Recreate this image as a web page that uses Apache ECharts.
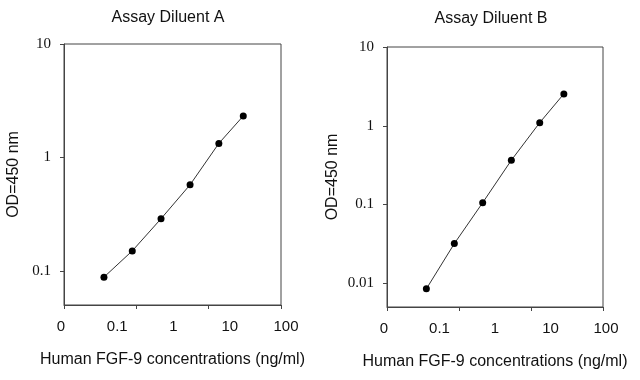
<!DOCTYPE html>
<html>
<head>
<meta charset="utf-8">
<script src="https://cdn.jsdelivr.net/npm/echarts@6/dist/echarts.min.js"></script>
<style>html,body{margin:0;padding:0;background:#fff;}#c{width:640px;height:380px;}</style>
</head>
<body>
<div id="c"></div>
<script>
// Data
const conc = [0.058, 0.185, 0.6, 1.97, 6.4, 17.4];           // ng/ml
const odA  = [0.088, 0.150, 0.288, 0.574, 1.33, 2.32];        // Assay Diluent A
const odB  = [0.0085, 0.0319, 0.1055, 0.365, 1.096, 2.54];    // Assay Diluent B
const titles = ['Assay Diluent A', 'Assay Diluent B'];
const xTickLabels = ['0', '0.1', '1', '10', '100'];            // at 0.01, 0.1, 1, 10, 100
const yTicksA = [0.1, 1, 10];
const yTicksB = [0.01, 0.1, 1, 10];
const xName = 'Human FGF-9 concentrations (ng/ml)';
const yName = 'OD=450 nm';

const sans = 'Liberation Sans, Arial, sans-serif';
const serif = 'Liberation Serif, Times New Roman, serif';
const lineCol = '#444';
const textCol = '#111';

function boxX(grid) {
  return {
    gridIndex: grid, type: 'value', min: 0, max: 3, interval: 1,
    axisLine: { show: true, lineStyle: { color: lineCol, width: 1 } },
    axisTick: { show: true, inside: false, length: 4, lineStyle: { color: lineCol } },
    axisLabel: { show: false }, splitLine: { show: false },
    name: xName, nameLocation: 'middle', nameGap: 47,
    nameTextStyle: { fontFamily: sans, fontSize: 16, color: textCol }
  };
}
function labelX(grid) {
  return {
    gridIndex: grid, type: 'log', logBase: 10, min: 0.01, max: 100,
    axisLine: { show: false }, axisTick: { show: false }, splitLine: { show: false },
    axisLabel: {
      margin: 14, fontFamily: sans, fontSize: 15, color: textCol,
      formatter: v => xTickLabels[Math.round(Math.log10(v)) + 2] || ''
    }
  };
}
function boxY(grid, min, ticks, gap) {
  return {
    gridIndex: grid, type: 'log', logBase: 10, min: min, max: 10,
    axisLine: { show: true, lineStyle: { color: lineCol, width: 1 } },
    axisTick: { show: true, inside: false, length: 4, lineStyle: { color: lineCol }, customValues: ticks },
    axisLabel: { margin: 13, fontFamily: serif, fontSize: 15, color: textCol, customValues: ticks,
      formatter: v => String(v) },
    splitLine: { show: false },
    name: yName, nameLocation: 'middle', nameGap: gap, nameRotate: 90,
    nameTextStyle: { fontFamily: sans, fontSize: 16, color: textCol }
  };
}
function hiddenY(grid, min) {
  return { gridIndex: grid, type: 'log', logBase: 10, min: min, max: 10, show: false };
}
function series(xi, yi, vals) {
  return {
    type: 'line', xAxisIndex: xi, yAxisIndex: yi,
    data: conc.map((c, i) => [c, vals[i]]),
    symbol: 'circle', symbolSize: 7, showSymbol: true,
    itemStyle: { color: '#000' },
    lineStyle: { color: '#333', width: 1 },
    silent: true, animation: false
  };
}

const chart = echarts.init(document.getElementById('c'), null, { renderer: 'canvas' });
chart.setOption({
  backgroundColor: '#fff',
  animation: false,
  title: [
    { text: titles[0], left: 163, top: 5, textAlign: 'center',
      textStyle: { fontFamily: sans, fontSize: 16, fontWeight: 'normal', color: textCol } },
    { text: titles[1], left: 486, top: 6, textAlign: 'center',
      textStyle: { fontFamily: sans, fontSize: 16, fontWeight: 'normal', color: textCol } }
  ],
  grid: [
    { left: 64, top: 44, width: 217, height: 261, show: true, borderColor: lineCol, borderWidth: 1, backgroundColor: 'transparent' },
    { left: 61, top: 44, width: 225, height: 261 },
    { left: 387, top: 47, width: 216, height: 260, show: true, borderColor: lineCol, borderWidth: 1, backgroundColor: 'transparent' },
    { left: 384, top: 47, width: 222, height: 260 }
  ],
  xAxis: [boxX(0), labelX(1), boxX(2), labelX(3)],
  yAxis: [boxY(0, 0.05, yTicksA, 42), hiddenY(1, 0.05), boxY(2, 0.005, yTicksB, 46), hiddenY(3, 0.005)],
  series: [series(1, 1, odA), series(3, 3, odB)]
});
</script>
</body>
</html>
